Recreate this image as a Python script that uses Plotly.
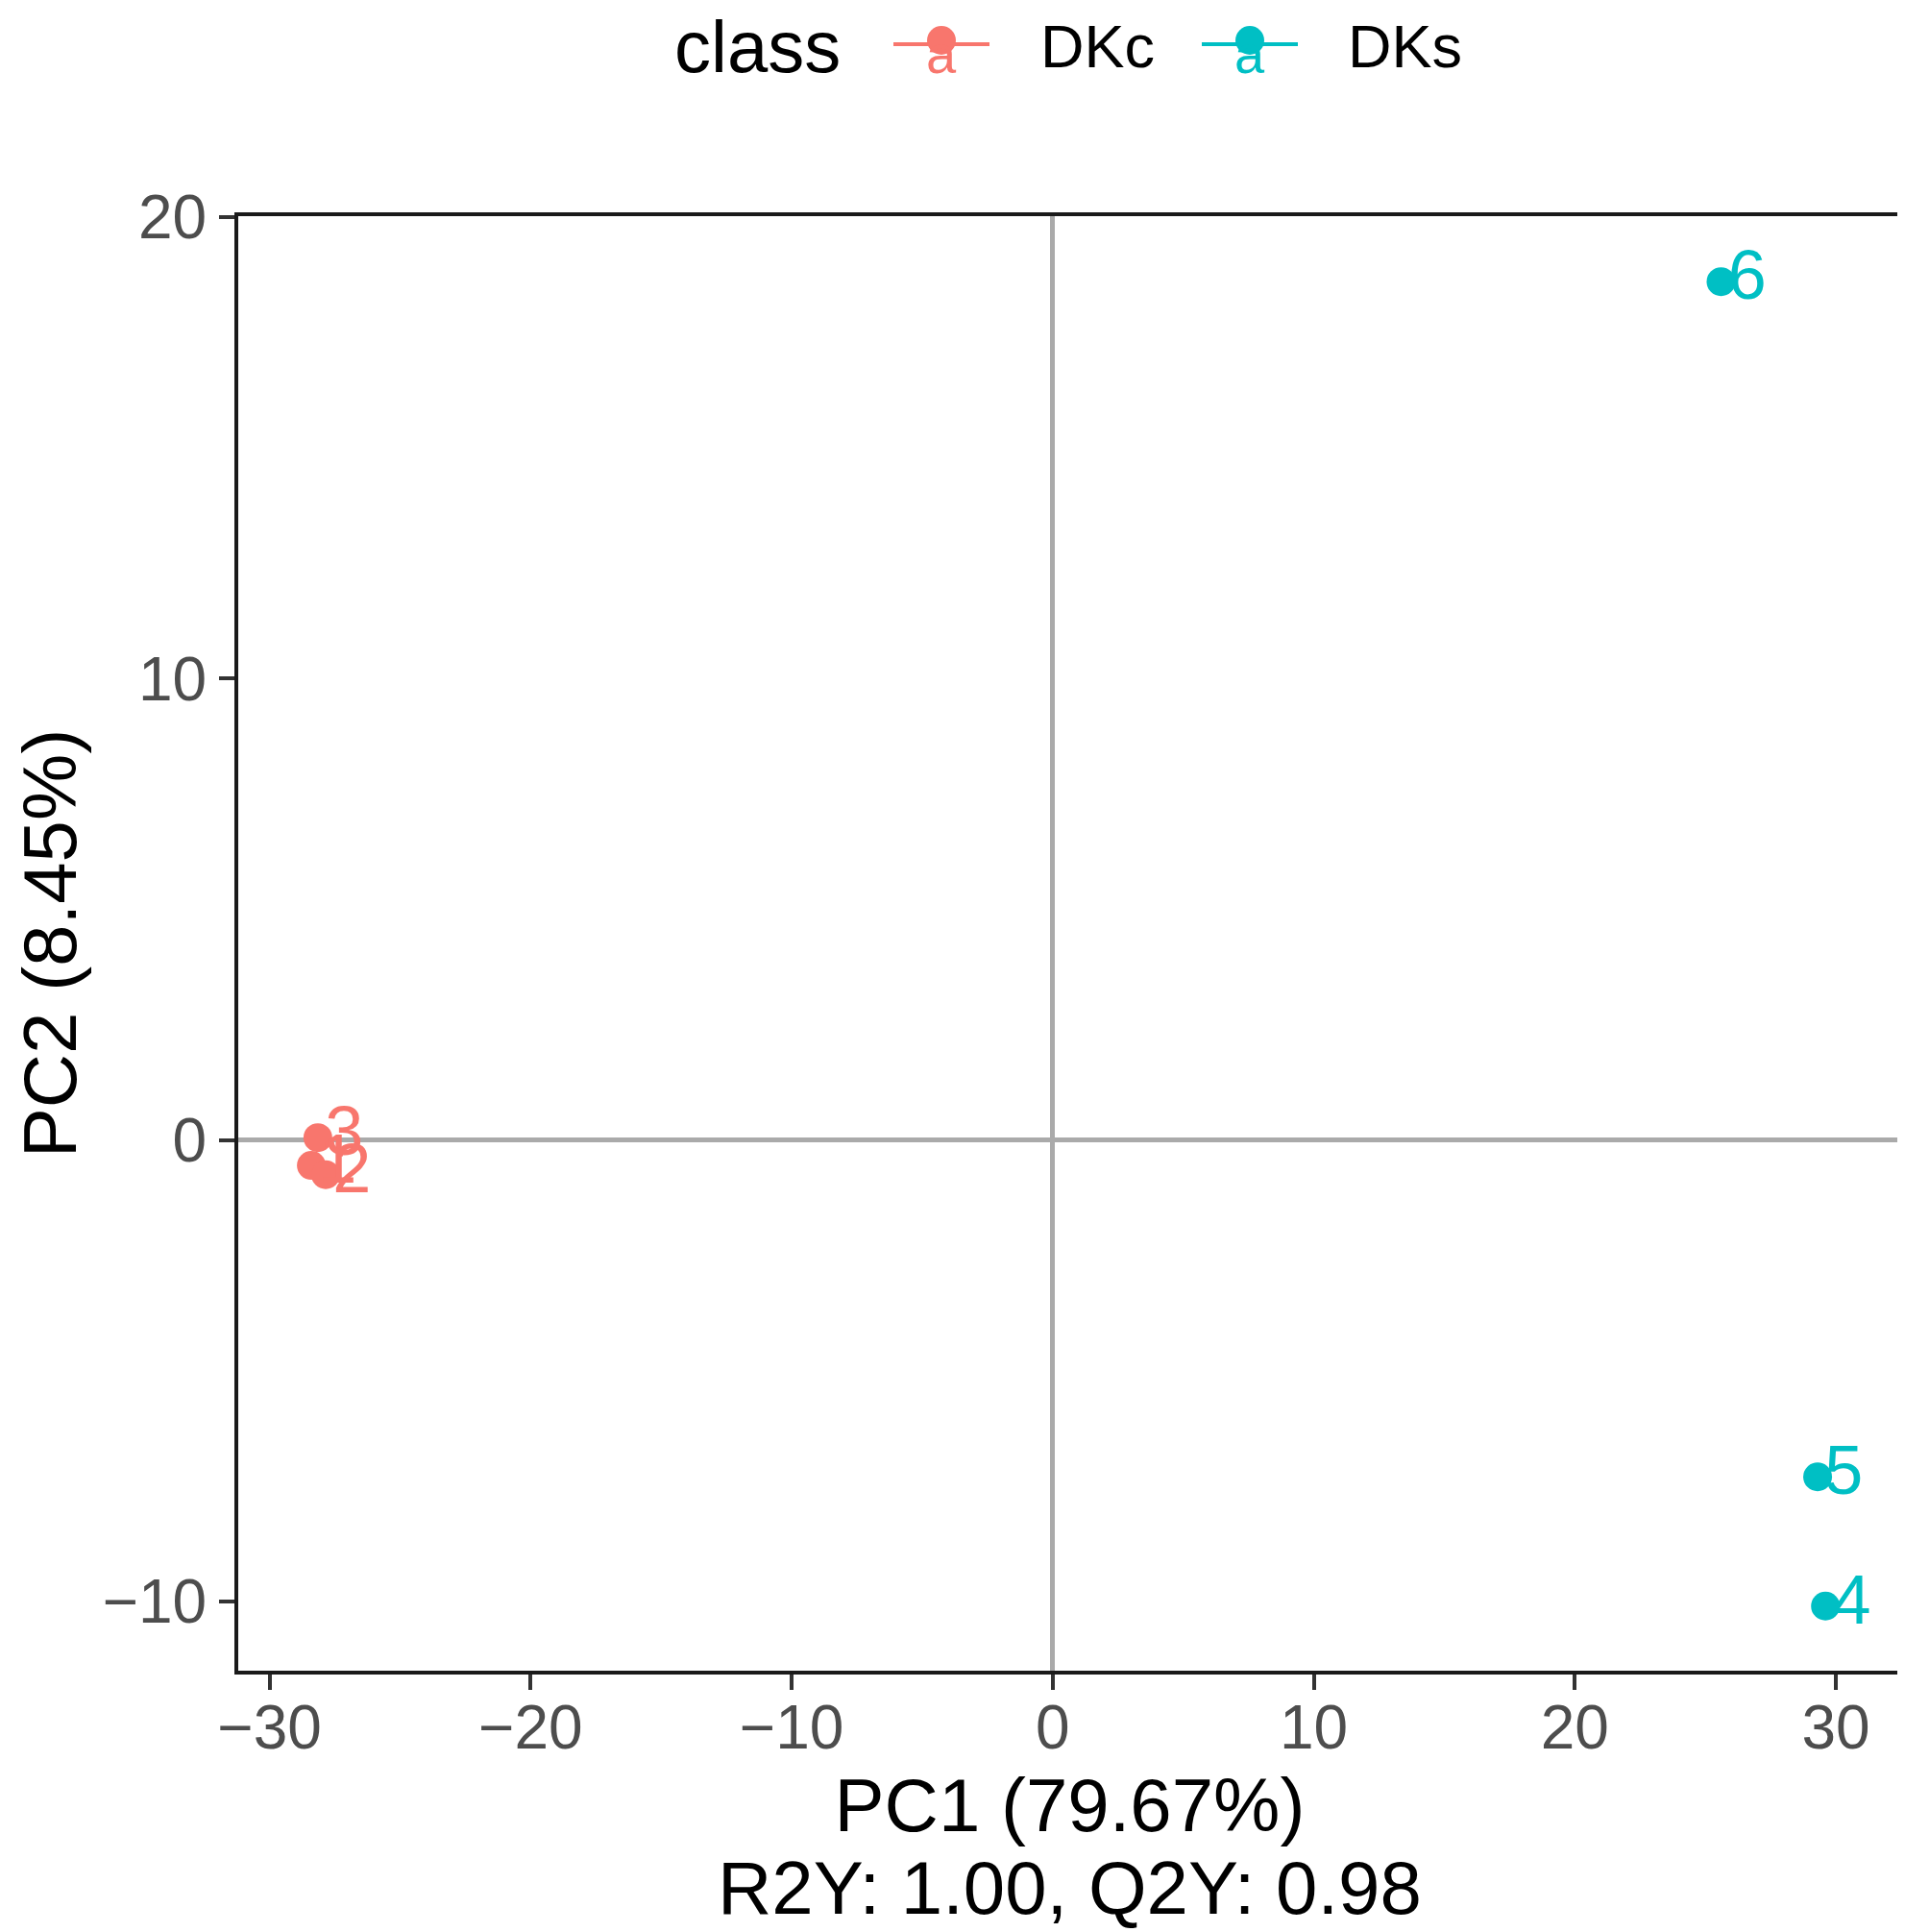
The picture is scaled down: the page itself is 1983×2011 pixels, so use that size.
import plotly.graph_objects as go

# ---- data ----
classes = ["DKc", "DKs"]
dkc_labels = ["1", "2", "3"]
dkc_pc1 = [-28.4, -27.85, -28.15]
dkc_pc2 = [-0.55, -0.75, 0.05]
dks_labels = ["4", "5", "6"]
dks_pc1 = [29.6, 29.3, 25.6]
dks_pc2 = [-10.1, -7.3, 18.6]
x_ticks = [-30, -20, -10, 0, 10, 20, 30]
y_ticks = [-10, 0, 10, 20]
x_title = "PC1 (79.67%)"
y_title = "PC2 (8.45%)"
sub_title = "R2Y: 1.00, Q2Y: 0.98"

RED = "#F8766D"
TEAL = "#00BFC4"
FONT = "Liberation Sans, Arial, sans-serif"

W, H = 1983, 2011
L, R, T, B = 240, 12, 217, 280
PW = W - L - R
PH = H - T - B


def px2paper(px, py):
    return (px - L) / PW, (H - B - py) / PH


fig = go.Figure()
for labels, xs, ys, col, name in [
    (dkc_labels, dkc_pc1, dkc_pc2, RED, classes[0]),
    (dks_labels, dks_pc1, dks_pc2, TEAL, classes[1]),
]:
    # points
    fig.add_trace(go.Scatter(
        x=xs, y=ys, mode="markers", name=name,
        marker=dict(size=30, color=col),
        showlegend=False, hoverinfo="skip",
    ))
    # sample labels placed just right of each point
    fig.add_trace(go.Scatter(
        x=xs, y=ys, text=labels, mode="markers+text", name=name,
        marker=dict(size=10, color="rgba(0,0,0,0)"),
        textposition="middle right",
        textfont=dict(size=72, color=col, family=FONT),
        showlegend=False,
    ))

axis_common = dict(
    showgrid=False, automargin=False,
    zeroline=True, zerolinecolor="#AAAAAA", zerolinewidth=5,
    showline=True, mirror=True, linecolor="#1A1A1A", linewidth=4,
    ticks="outside", ticklen=16, tickwidth=4, tickcolor="#333333",
    tickfont=dict(size=64, color="#4D4D4D", family=FONT),
)
fig.update_xaxes(range=[-31.2, 32.5], tickvals=x_ticks, ticklabelstandoff=-16,
                 title=dict(text=x_title, font=dict(size=78, color="black", family=FONT), standoff=20),
                 **axis_common)
fig.update_yaxes(range=[-11.5, 20.02], tickvals=y_ticks,
                 title=dict(text=y_title, font=dict(size=78, color="black", family=FONT), standoff=36),
                 **axis_common)

annotations = []
shapes = []
# subtitle under x title
sx, sy = px2paper(W / 2, 1957)
annotations.append(dict(text=sub_title, x=0.5, y=sy, xref="paper", yref="paper",
                        showarrow=False, xanchor="center", yanchor="middle",
                        font=dict(size=78, color="black", family=FONT)))

# custom legend
ly = 42
lx, lyp = px2paper(692, ly - 2)
annotations.append(dict(text="class", x=lx, y=lyp, xref="paper", yref="paper",
                        showarrow=False, xanchor="left", yanchor="middle", height=66,
                        font=dict(size=76, color="black", family=FONT)))
for name, col, cx, tx in [(classes[0], RED, 972, 1073), (classes[1], TEAL, 1293, 1393)]:
    x0, yp = px2paper(cx - 50, ly - 4)
    x1, _ = px2paper(cx + 50, ly - 4)
    shapes.append(dict(type="line", xref="paper", yref="paper", x0=x0, x1=x1, y0=yp, y1=yp,
                       line=dict(color=col, width=4)))
    cxp, cyp = px2paper(cx, ly - 8)
    shapes.append(dict(type="circle", xref="paper", yref="paper", xsizemode="pixel",
                       ysizemode="pixel", xanchor=cxp, yanchor=cyp, x0=-15, x1=15,
                       y0=-15, y1=15, fillcolor=col, line=dict(color=col, width=0)))
    ax, ayp = px2paper(cx, ly + 6)
    annotations.append(dict(text="a", x=ax, y=ayp, xref="paper", yref="paper",
                            showarrow=False, xanchor="center", yanchor="middle", height=50,
                            font=dict(size=56, color=col, family=FONT)))
    txp, typ = px2paper(tx, ly - 2)
    annotations.append(dict(text=name, x=txp, y=typ, xref="paper", yref="paper",
                            showarrow=False, xanchor="left", yanchor="middle", height=60,
                            font=dict(size=63, color="black", family=FONT)))

fig.update_layout(
    width=W, height=H,
    margin=dict(l=L, r=R, t=T, b=B, pad=0, autoexpand=False),
    paper_bgcolor="white", plot_bgcolor="white",
    showlegend=False,
    annotations=annotations, shapes=shapes,
    font=dict(family=FONT),
)

fig.write_html("out.html")
